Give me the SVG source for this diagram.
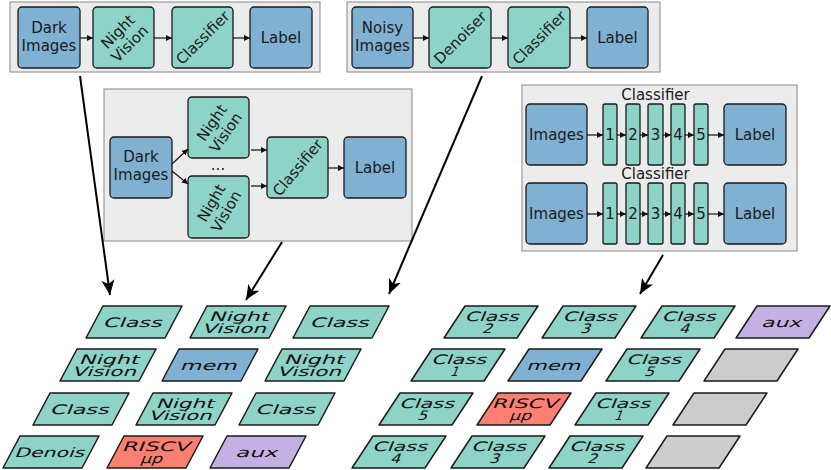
<svg xmlns="http://www.w3.org/2000/svg" width="831" height="470" viewBox="0 0 831 470">
<defs>
<style>
.cont{fill:#ececec;stroke:#9a9a9a;stroke-width:1.2}
.box{stroke:#1a1a1a;stroke-width:1.3}
.teal{fill:#8dd3c7}
.blue{fill:#80b1d3}
.red{fill:#fb8072}
.lav{fill:#c5b0e4}
.gray{fill:#cccccc}
.t{font-family:"DejaVu Sans",sans-serif;font-size:15px;fill:#1a1a1a;text-anchor:middle}
.pt{font-family:"DejaVu Sans",sans-serif;font-size:13px;fill:#111;text-anchor:middle}
.pg{stroke:#1a1a1a;stroke-width:1.5;stroke-linejoin:round}
.sa{stroke:#111;stroke-width:1.2;fill:none}
.ba{stroke:#000;stroke-width:2;fill:none}
</style>
<marker id="sm" markerUnits="userSpaceOnUse" markerWidth="6" markerHeight="6" refX="6" refY="3" orient="auto"><path d="M6,3 L0,0 L0,6 Z" fill="#111"/></marker>
<marker id="bg" markerUnits="userSpaceOnUse" markerWidth="16" markerHeight="14" refX="15" refY="7" orient="auto"><path d="M15,7 L0,0.5 L4,7 L0,13.5 Z" fill="#000"/></marker>
</defs>

<!-- Container 1 -->
<g id="pipeline1">
<rect class="cont" x="10" y="2" width="310" height="70"/>
<g id="p1-dark"><rect class="box blue" x="18" y="7" width="62" height="61" rx="4"/><text class="t" x="49" y="32.5">Dark</text><text class="t" x="49" y="50.5">Images</text></g>
<g id="p1-nv"><rect class="box teal" x="93" y="7" width="61" height="61" rx="4"/><g transform="translate(123.5,37.5) rotate(-45)"><text class="t" x="0" y="-3">Night</text><text class="t" x="0" y="14">Vision</text></g></g>
<g id="p1-cls"><rect class="box teal" x="172" y="7" width="61" height="61" rx="4"/><text class="t" transform="translate(202.5,37.5) rotate(-45)" x="0" y="5.5">Classifier</text></g>
<g id="p1-label"><rect class="box blue" x="250" y="7" width="62" height="61" rx="4"/><text class="t" x="281" y="43">Label</text></g>
</g>

<!-- Container 2 -->
<g id="pipeline2">
<rect class="cont" x="347" y="2" width="313" height="70"/>
<g id="p2-noisy"><rect class="box blue" x="352" y="7" width="61" height="61" rx="4"/><text class="t" x="382.5" y="32.5">Noisy</text><text class="t" x="382.5" y="50.5">Images</text></g>
<g id="p2-den"><rect class="box teal" x="429" y="7" width="62" height="61" rx="4"/><text class="t" transform="translate(460,37.5) rotate(-45)" x="0" y="5.5">Denoiser</text></g>
<g id="p2-cls"><rect class="box teal" x="508" y="7" width="62" height="61" rx="4"/><text class="t" transform="translate(539,37.5) rotate(-45)" x="0" y="5.5">Classifier</text></g>
<g id="p2-label"><rect class="box blue" x="587" y="7" width="61" height="61" rx="4"/><text class="t" x="617.5" y="43">Label</text></g>
</g>

<!-- Container 3 -->
<g id="pipeline3">
<rect class="cont" x="104" y="89" width="308" height="152"/>
<g id="p3-dark"><rect class="box blue" x="110" y="137" width="62" height="61" rx="4"/><text class="t" x="141" y="162">Dark</text><text class="t" x="141" y="180">Images</text></g>
<g id="p3-nv1"><rect class="box teal" x="188" y="97" width="61" height="61" rx="4"/><g transform="translate(218.5,127.5) rotate(-55)"><text class="t" x="0" y="-3">Night</text><text class="t" x="0" y="14">Vision</text></g></g>
<g id="p3-nv2"><rect class="box teal" x="188" y="176" width="61" height="62" rx="4"/><g transform="translate(218.5,207) rotate(-60)"><text class="t" x="0" y="-3">Night</text><text class="t" x="0" y="14">Vision</text></g></g>
<text class="t" x="218" y="170">...</text>
<g id="p3-cls"><rect class="box teal" x="267" y="137" width="61" height="61" rx="4"/><text class="t" transform="translate(297.5,167.5) rotate(-50)" x="0" y="5.5">Classifier</text></g>
<g id="p3-label"><rect class="box blue" x="344" y="137" width="62" height="61" rx="4"/><text class="t" x="375" y="173">Label</text></g>
</g>

<!-- Container 4 -->
<g id="pipeline4">
<rect class="cont" x="522" y="85" width="275" height="166"/>
<text class="t" x="655.5" y="100">Classifier</text>
<text class="t" x="655.5" y="179">Classifier</text>
<g id="p4-img1"><rect class="box blue" x="526" y="104" width="61" height="61" rx="4"/><text class="t" x="556.5" y="140">Images</text></g>
<g id="p4-img2"><rect class="box blue" x="526" y="183" width="61" height="61" rx="4"/><text class="t" x="556.5" y="219">Images</text></g>
<g id="p4-l1a"><rect class="box teal" x="603" y="104" width="14" height="61" rx="2"/><text class="t" x="610" y="140">1</text></g>
<g id="p4-l2a"><rect class="box teal" x="626" y="104" width="14" height="61" rx="2"/><text class="t" x="633" y="140">2</text></g>
<g id="p4-l3a"><rect class="box teal" x="648" y="104" width="15" height="61" rx="2"/><text class="t" x="655.5" y="140">3</text></g>
<g id="p4-l4a"><rect class="box teal" x="671" y="104" width="14" height="61" rx="2"/><text class="t" x="678" y="140">4</text></g>
<g id="p4-l5a"><rect class="box teal" x="694" y="104" width="14" height="61" rx="2"/><text class="t" x="701" y="140">5</text></g>
<g id="p4-l1b"><rect class="box teal" x="603" y="183" width="14" height="61" rx="2"/><text class="t" x="610" y="219">1</text></g>
<g id="p4-l2b"><rect class="box teal" x="626" y="183" width="14" height="61" rx="2"/><text class="t" x="633" y="219">2</text></g>
<g id="p4-l3b"><rect class="box teal" x="648" y="183" width="15" height="61" rx="2"/><text class="t" x="655.5" y="219">3</text></g>
<g id="p4-l4b"><rect class="box teal" x="671" y="183" width="14" height="61" rx="2"/><text class="t" x="678" y="219">4</text></g>
<g id="p4-l5b"><rect class="box teal" x="694" y="183" width="14" height="61" rx="2"/><text class="t" x="701" y="219">5</text></g>
<g id="p4-lab1"><rect class="box blue" x="724" y="104" width="62" height="61" rx="4"/><text class="t" x="755" y="140">Label</text></g>
<g id="p4-lab2"><rect class="box blue" x="724" y="183" width="62" height="61" rx="4"/><text class="t" x="755" y="219">Label</text></g>
</g>

<!-- Left grid -->
<g id="left-grid">
<g id="L11"><path class="pg teal" d="M103,306 L182,306 L165,338 L86,338 Z"/><text class="pt" transform="translate(134,322) skewX(-22)" x="0" y="5" textLength="59" lengthAdjust="spacingAndGlyphs">Class</text></g>
<g id="L12"><path class="pg teal" d="M207,306 L286,306 L269,338 L190,338 Z"/><g transform="translate(238,322) skewX(-22)"><text class="pt" x="0" y="-1" textLength="60" lengthAdjust="spacingAndGlyphs">Night</text><text class="pt" x="0" y="10.5" textLength="64" lengthAdjust="spacingAndGlyphs">Vision</text></g></g>
<g id="L13"><path class="pg teal" d="M310,306 L389,306 L372,338 L293,338 Z"/><text class="pt" transform="translate(341,322) skewX(-22)" x="0" y="5" textLength="59" lengthAdjust="spacingAndGlyphs">Class</text></g>
<g id="L21"><path class="pg teal" d="M77,349 L156,349 L139,381 L60,381 Z"/><g transform="translate(108,365) skewX(-22)"><text class="pt" x="0" y="-1" textLength="60" lengthAdjust="spacingAndGlyphs">Night</text><text class="pt" x="0" y="10.5" textLength="64" lengthAdjust="spacingAndGlyphs">Vision</text></g></g>
<g id="L22"><path class="pg blue" d="M179,349 L258,349 L241,381 L162,381 Z"/><text class="pt" transform="translate(210,365) skewX(-22)" x="0" y="5" textLength="57" lengthAdjust="spacingAndGlyphs">mem</text></g>
<g id="L23"><path class="pg teal" d="M282,349 L361,349 L344,381 L265,381 Z"/><g transform="translate(313,365) skewX(-22)"><text class="pt" x="0" y="-1" textLength="60" lengthAdjust="spacingAndGlyphs">Night</text><text class="pt" x="0" y="10.5" textLength="64" lengthAdjust="spacingAndGlyphs">Vision</text></g></g>
<g id="L31"><path class="pg teal" d="M50,393 L129,393 L112,425 L33,425 Z"/><text class="pt" transform="translate(81,409) skewX(-22)" x="0" y="5" textLength="59" lengthAdjust="spacingAndGlyphs">Class</text></g>
<g id="L32"><path class="pg teal" d="M153,393 L232,393 L215,425 L136,425 Z"/><g transform="translate(184,409) skewX(-22)"><text class="pt" x="0" y="-1" textLength="58" lengthAdjust="spacingAndGlyphs">Night</text><text class="pt" x="0" y="10.5" textLength="63" lengthAdjust="spacingAndGlyphs">Vision</text></g></g>
<g id="L33"><path class="pg teal" d="M256,393 L335,393 L318,425 L239,425 Z"/><text class="pt" transform="translate(287,409) skewX(-22)" x="0" y="5" textLength="60" lengthAdjust="spacingAndGlyphs">Class</text></g>
<g id="L41"><path class="pg teal" d="M20,436 L99,436 L82,468 L3,468 Z"/><text class="pt" transform="translate(51,452) skewX(-22)" x="0" y="5" textLength="70" lengthAdjust="spacingAndGlyphs">Denois</text></g>
<g id="L42"><path class="pg red" d="M124,436 L203,436 L186,468 L107,468 Z"/><g transform="translate(155,452) skewX(-22)"><text class="pt" x="0" y="-1" textLength="68" lengthAdjust="spacingAndGlyphs">RISCV</text><text class="pt" x="0" y="10.5" textLength="22" lengthAdjust="spacingAndGlyphs">μp</text></g></g>
<g id="L43"><path class="pg lav" d="M227,436 L306,436 L289,468 L210,468 Z"/><text class="pt" transform="translate(258,452) skewX(-22)" x="0" y="5" textLength="42" lengthAdjust="spacingAndGlyphs">aux</text></g>
</g>

<!-- Right grid -->
<g id="right-grid">
<g id="R11"><path class="pg teal" d="M465,306 L538,306 L517,338 L444,338 Z"/><g transform="translate(491,322) skewX(-22)"><text class="pt" x="0" y="-1" textLength="54" lengthAdjust="spacingAndGlyphs">Class</text><text class="pt" x="0" y="10.5" textLength="10" lengthAdjust="spacingAndGlyphs">2</text></g></g>
<g id="R12"><path class="pg teal" d="M563,306 L636,306 L615,338 L542,338 Z"/><g transform="translate(589,322) skewX(-22)"><text class="pt" x="0" y="-1" textLength="54" lengthAdjust="spacingAndGlyphs">Class</text><text class="pt" x="0" y="10.5" textLength="10" lengthAdjust="spacingAndGlyphs">3</text></g></g>
<g id="R13"><path class="pg teal" d="M662,306 L735,306 L714,338 L641,338 Z"/><g transform="translate(688,322) skewX(-22)"><text class="pt" x="0" y="-1" textLength="54" lengthAdjust="spacingAndGlyphs">Class</text><text class="pt" x="0" y="10.5" textLength="10" lengthAdjust="spacingAndGlyphs">4</text></g></g>
<g id="R14"><path class="pg lav" d="M757,306 L830,306 L809,338 L736,338 Z"/><text class="pt" transform="translate(783,322) skewX(-22)" x="0" y="5" textLength="40" lengthAdjust="spacingAndGlyphs">aux</text></g>
<g id="R21"><path class="pg teal" d="M432,349 L505,349 L484,381 L411,381 Z"/><g transform="translate(458,365) skewX(-22)"><text class="pt" x="0" y="-1" textLength="55" lengthAdjust="spacingAndGlyphs">Class</text><text class="pt" x="0" y="10.5" textLength="8" lengthAdjust="spacingAndGlyphs">1</text></g></g>
<g id="R22"><path class="pg blue" d="M529,349 L602,349 L581,381 L508,381 Z"/><text class="pt" transform="translate(555,365) skewX(-22)" x="0" y="5" textLength="54" lengthAdjust="spacingAndGlyphs">mem</text></g>
<g id="R23"><path class="pg teal" d="M627,349 L700,349 L679,381 L606,381 Z"/><g transform="translate(653,365) skewX(-22)"><text class="pt" x="0" y="-1" textLength="55" lengthAdjust="spacingAndGlyphs">Class</text><text class="pt" x="0" y="10.5" textLength="10" lengthAdjust="spacingAndGlyphs">5</text></g></g>
<g id="R24"><path class="pg gray" d="M725,349 L798,349 L777,381 L704,381 Z"/></g>
<g id="R31"><path class="pg teal" d="M400,393 L473,393 L452,425 L379,425 Z"/><g transform="translate(426,409) skewX(-22)"><text class="pt" x="0" y="-1" textLength="55" lengthAdjust="spacingAndGlyphs">Class</text><text class="pt" x="0" y="10.5" textLength="10" lengthAdjust="spacingAndGlyphs">5</text></g></g>
<g id="R32"><path class="pg red" d="M498,393 L571,393 L550,425 L477,425 Z"/><g transform="translate(524,409) skewX(-22)"><text class="pt" x="0" y="-1" textLength="66" lengthAdjust="spacingAndGlyphs">RISCV</text><text class="pt" x="0" y="10.5" textLength="22" lengthAdjust="spacingAndGlyphs">μp</text></g></g>
<g id="R33"><path class="pg teal" d="M596,393 L669,393 L648,425 L575,425 Z"/><g transform="translate(622,409) skewX(-22)"><text class="pt" x="0" y="-1" textLength="55" lengthAdjust="spacingAndGlyphs">Class</text><text class="pt" x="0" y="10.5" textLength="8" lengthAdjust="spacingAndGlyphs">1</text></g></g>
<g id="R34"><path class="pg gray" d="M694,393 L767,393 L746,425 L673,425 Z"/></g>
<g id="R41"><path class="pg teal" d="M373,436 L446,436 L425,468 L352,468 Z"/><g transform="translate(399,452) skewX(-22)"><text class="pt" x="0" y="-1" textLength="55" lengthAdjust="spacingAndGlyphs">Class</text><text class="pt" x="0" y="10.5" textLength="10" lengthAdjust="spacingAndGlyphs">4</text></g></g>
<g id="R42"><path class="pg teal" d="M472,436 L545,436 L524,468 L451,468 Z"/><g transform="translate(498,452) skewX(-22)"><text class="pt" x="0" y="-1" textLength="55" lengthAdjust="spacingAndGlyphs">Class</text><text class="pt" x="0" y="10.5" textLength="10" lengthAdjust="spacingAndGlyphs">3</text></g></g>
<g id="R43"><path class="pg teal" d="M570,436 L643,436 L622,468 L549,468 Z"/><g transform="translate(596,452) skewX(-22)"><text class="pt" x="0" y="-1" textLength="55" lengthAdjust="spacingAndGlyphs">Class</text><text class="pt" x="0" y="10.5" textLength="10" lengthAdjust="spacingAndGlyphs">2</text></g></g>
<g id="R44"><path class="pg gray" d="M667,436 L740,436 L719,468 L646,468 Z"/></g>
</g>

<!-- Connectors -->
<g id="connectors">
<line class="sa" x1="80" y1="38" x2="93" y2="38" marker-end="url(#sm)"/>
<line class="sa" x1="154" y1="38" x2="172" y2="38" marker-end="url(#sm)"/>
<line class="sa" x1="233" y1="38" x2="250" y2="38" marker-end="url(#sm)"/>
<line class="sa" x1="413" y1="38" x2="429" y2="38" marker-end="url(#sm)"/>
<line class="sa" x1="491" y1="38" x2="508" y2="38" marker-end="url(#sm)"/>
<line class="sa" x1="570" y1="38" x2="587" y2="38" marker-end="url(#sm)"/>
<line class="sa" x1="172" y1="164" x2="188" y2="149" marker-end="url(#sm)"/>
<line class="sa" x1="172" y1="171" x2="188" y2="184" marker-end="url(#sm)"/>
<line class="sa" x1="251" y1="150" x2="267" y2="150" marker-end="url(#sm)"/>
<line class="sa" x1="251" y1="186" x2="267" y2="186" marker-end="url(#sm)"/>
<line class="sa" x1="328" y1="168" x2="344" y2="168" marker-end="url(#sm)"/>
<line class="sa" x1="587" y1="135" x2="603" y2="135" marker-end="url(#sm)"/>
<line class="sa" x1="617" y1="135" x2="626" y2="135" marker-end="url(#sm)"/>
<line class="sa" x1="640" y1="135" x2="648" y2="135" marker-end="url(#sm)"/>
<line class="sa" x1="663" y1="135" x2="671" y2="135" marker-end="url(#sm)"/>
<line class="sa" x1="685" y1="135" x2="694" y2="135" marker-end="url(#sm)"/>
<line class="sa" x1="708" y1="135" x2="724" y2="135" marker-end="url(#sm)"/>
<line class="sa" x1="587" y1="214" x2="603" y2="214" marker-end="url(#sm)"/>
<line class="sa" x1="617" y1="214" x2="626" y2="214" marker-end="url(#sm)"/>
<line class="sa" x1="640" y1="214" x2="648" y2="214" marker-end="url(#sm)"/>
<line class="sa" x1="663" y1="214" x2="671" y2="214" marker-end="url(#sm)"/>
<line class="sa" x1="685" y1="214" x2="694" y2="214" marker-end="url(#sm)"/>
<line class="sa" x1="708" y1="214" x2="724" y2="214" marker-end="url(#sm)"/>
<line class="ba" x1="80" y1="76" x2="110" y2="295" marker-end="url(#bg)"/>
<line class="ba" x1="282" y1="242" x2="246" y2="300" marker-end="url(#bg)"/>
<line class="ba" x1="482" y1="76" x2="389" y2="294" marker-end="url(#bg)"/>
<line class="ba" x1="663" y1="255" x2="640" y2="294" marker-end="url(#bg)"/>
</g>
</svg>
